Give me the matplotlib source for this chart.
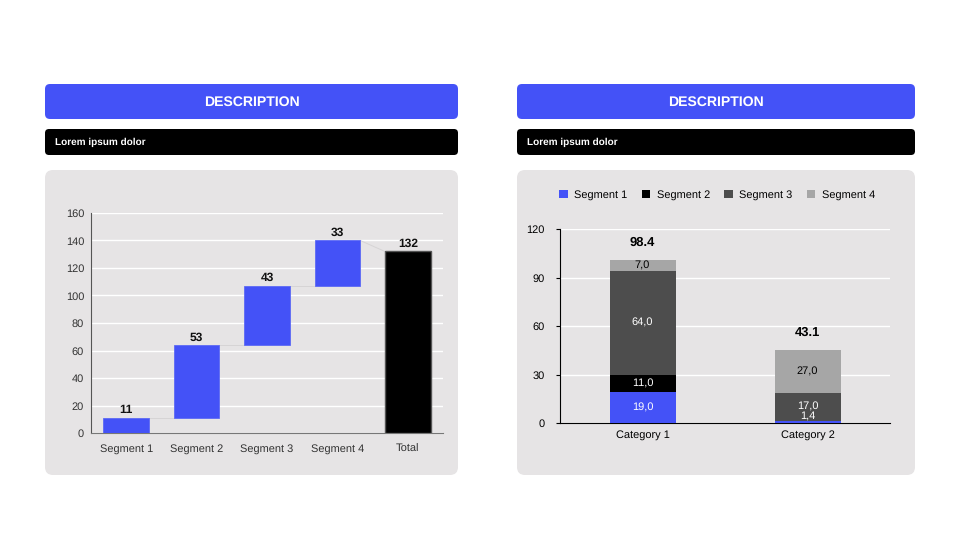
import matplotlib.pyplot as plt
import numpy as np
from matplotlib.patches import FancyBboxPatch

plt.rcParams['font.family'] = ['Liberation Sans', 'DejaVu Sans']
plt.rcParams['text.hinting'] = 'no_hinting'
plt.rcParams['text.hinting_factor'] = 1

# waterfall data
wf_labels = ['Segment 1', 'Segment 2', 'Segment 3', 'Segment 4', 'Total']
wf_steps = [11, 53, 43, 33]
wf_step_labels = ['11', '53', '43', '33']
wf_total = 132

# stacked data
categories = ['Category 1', 'Category 2']
seg_names = ['Segment 1', 'Segment 2', 'Segment 3', 'Segment 4']
seg1 = [19.0, 1.4]
seg2 = [11.0, 0.0]
seg3 = [64.0, 17.0]
seg4 = [7.0, 27.0]
cat_totals = ['98.4', '43.1']

BLUE = '#4452F7'
PANEL = '#E6E4E5'
seg_colors = [BLUE, '#000000', '#4D4D4D', '#A6A6A6']
seg_text = ['white', 'white', 'white', 'black']

fig = plt.figure(figsize=(9.6, 5.4), dpi=100)
fig.patch.set_facecolor('white')

# background layer in pixel coords
bg = fig.add_axes([0, 0, 1, 1])
bg.set_xlim(0, 960)
bg.set_ylim(540, 0)
bg.axis('off')


def box(x0, y0, x1, y1, color, r):
    bg.add_patch(FancyBboxPatch((x0, y0), x1 - x0, y1 - y0,
                                boxstyle=f'round,pad=0,rounding_size={r}',
                                fc=color, ec='none'))


for x0, x1 in [(45, 458), (517, 915)]:
    box(x0, 84, x1, 119, BLUE, 5)
    bg.text((x0 + x1) / 2, 102, 'DESCRIPTION', color='white', fontsize=10.2,
            fontweight='bold', ha='center', va='center')
    box(x0, 129, x1, 155, 'black', 4)
    bg.text(x0 + 10, 142.5, 'Lorem ipsum dolor', color='white', fontsize=7.2,
            fontweight='bold', ha='left', va='center')
    box(x0, 170, x1, 475, PANEL, 8)

# ---- waterfall ----
ax1 = fig.add_axes([91 / 960, 1 - 433 / 540, 352 / 960, 220 / 540])
ax1.set_facecolor('none')
w = 0.65
cum = np.cumsum([0] + wf_steps)
x = np.arange(len(wf_labels))
ax1.bar(x[:4], wf_steps, bottom=cum[:-1], width=w, color=BLUE,
        edgecolor='#5d6af5', linewidth=0.6, zorder=3)
ax1.bar(x[4], wf_total, width=w, color='black', edgecolor='#555555',
        linewidth=1, zorder=3)
tops = list(cum[1:]) + [wf_total]
nexts = list(cum[1:4]) + [wf_total]
for i in range(4):
    ax1.plot([x[i] + w / 2, x[i + 1] - w / 2], [cum[i + 1], nexts[i]],
             color='#d6d4d5', lw=0.7, zorder=2)
for i, lab in enumerate(wf_step_labels + [str(wf_total)]):
    ax1.text(x[i], tops[i] + 1.5, lab, ha='center', va='bottom',
             fontsize=8.8, fontweight='bold', color='#111111')
ax1.set_xlim(-0.5, 4.5)
ax1.set_ylim(0, 160)
ax1.set_yticks(np.arange(0, 161, 20))
ax1.set_xticks(x)
ax1.set_xticklabels(wf_labels)
ax1.tick_params(axis='y', length=0, labelsize=8, labelcolor='#333333', pad=5)
ax1.tick_params(axis='x', length=0, labelsize=8, labelcolor='#333333', pad=8)
ax1.grid(axis='y', color='white', lw=1, zorder=0)
ax1.set_axisbelow(True)
for s in ['top', 'right']:
    ax1.spines[s].set_visible(False)
ax1.spines['left'].set_color('#555555')
ax1.spines['bottom'].set_color('#777777')

# ---- stacked ----
ax2 = fig.add_axes([560 / 960, 1 - 423 / 540, 330 / 960, 194 / 540])
ax2.set_facecolor('none')
xc = np.arange(len(categories))
bottom = np.zeros(len(categories))
for vals, name, col, tc in zip([seg1, seg2, seg3, seg4], seg_names,
                               seg_colors, seg_text):
    vals = np.array(vals)
    ax2.bar(xc, vals, bottom=bottom, width=0.4, color=col, label=name,
            zorder=3)
    for j, v in enumerate(vals):
        if v > 0:
            ypos = max(bottom[j] + v / 2, 4.5)
            ax2.text(xc[j], ypos, f'{v:.1f}'.replace('.', ','),
                     ha='center', va='center', fontsize=8, color=tc,
                     zorder=4)
    bottom += vals
for j, t in enumerate(cat_totals):
    ax2.text(xc[j], bottom[j] + 10.5, t, ha='center', va='center',
             fontsize=9, fontweight='bold', color='black')
ax2.set_xlim(-0.5, 1.5)
ax2.set_ylim(0, 120)
ax2.set_yticks([0, 30, 60, 90, 120])
ax2.set_xticks(xc)
ax2.set_xticklabels(categories)
ax2.tick_params(axis='y', length=3, labelsize=8, pad=8)
ax2.tick_params(axis='x', length=0, labelsize=8, pad=5)
ax2.grid(axis='y', color='white', lw=1, zorder=0)
ax2.set_axisbelow(True)
for s in ['top', 'right']:
    ax2.spines[s].set_visible(False)
leg = ax2.legend(loc='center', bbox_to_anchor=(717 / 960, 1 - 195 / 540),
                 bbox_transform=fig.transFigure, ncol=4, frameon=False,
                 fontsize=7.8, handlelength=0.8, handleheight=0.8,
                 columnspacing=1.3, handletextpad=0.6)

fig.savefig('out.png', dpi=100, facecolor='white')
